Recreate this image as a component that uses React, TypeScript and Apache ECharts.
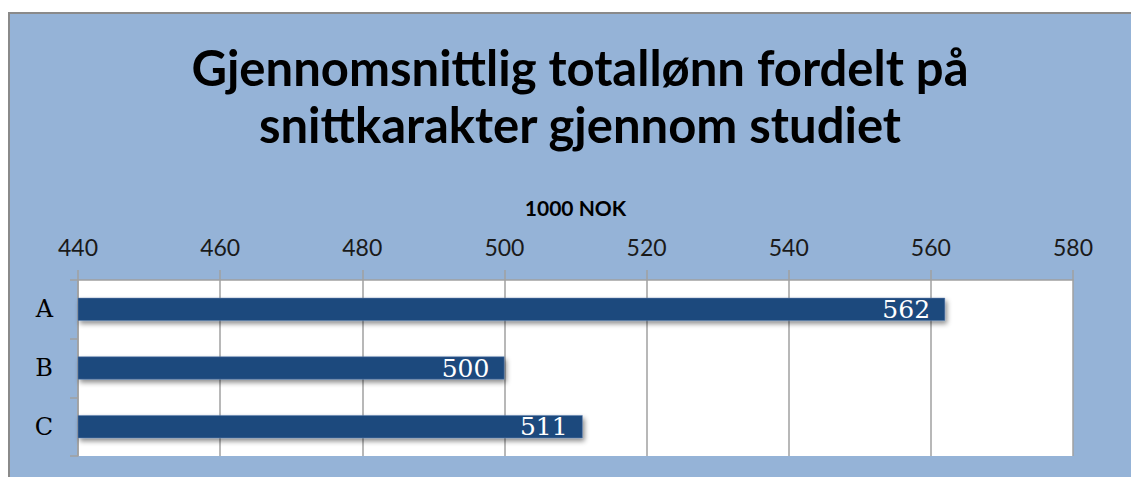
import React, { useEffect, useRef } from "react";
import * as echarts from "echarts";

const categories = ["A", "B", "C"];
const values = [562, 500, 511];
const titleLines = ["Gjennomsnittlig totallønn fordelt på", "snittkarakter gjennom studiet"];
const axisName = "1000 NOK";
const xMin = 440;
const xMax = 580;
const xInterval = 20;

export default function App() {
  const ref = useRef<HTMLDivElement>(null);
  useEffect(() => {
    if (!ref.current) return;
    const chart = echarts.init(ref.current, undefined, { renderer: "svg" });
    chart.setOption({
      animation: false,
      backgroundColor: "#ffffff",
      graphic: [
        {
          type: "rect",
          z: -10,
          silent: true,
          shape: { x: 9, y: 13, width: 1140, height: 480 },
          style: { fill: "#95B3D7", stroke: "#8a8a8a", lineWidth: 2 },
        },
      ],
      title: {
        text: titleLines.join("\n"),
        left: 575,
        top: 33,
        textAlign: "center",
        textStyle: {
          fontFamily: "Lato",
          fontWeight: "bold",
          fontSize: 49,
          lineHeight: 57,
          color: "#000000",
        },
      },
      grid: {
        left: 78,
        top: 280,
        width: 995,
        height: 176,
        containLabel: false,
        show: true,
        backgroundColor: "#ffffff",
        borderWidth: 0,
      },
      xAxis: {
        type: "value",
        position: "top",
        min: xMin,
        max: xMax,
        interval: xInterval,
        name: axisName,
        nameLocation: "middle",
        nameGap: 62,
        nameTextStyle: { fontFamily: "Lato", fontWeight: "bold", fontSize: 21, color: "#000" },
        axisLine: { show: true, lineStyle: { color: "#a0a0a0", width: 1.5 } },
        axisTick: { show: true, length: 10, lineStyle: { color: "#a0a0a0", width: 1.5 } },
        axisLabel: { fontFamily: "Lato", fontSize: 23, color: "#1a1a1a", margin: 22 },
        splitLine: { show: true, lineStyle: { color: "#a0a0a0", width: 1.5 } },
      },
      yAxis: {
        type: "category",
        data: categories,
        inverse: true,
        axisLine: { show: true, lineStyle: { color: "#a0a0a0", width: 1.5 } },
        axisTick: { show: true, length: 8, lineStyle: { color: "#a0a0a0", width: 1.5 } },
        axisLabel: { fontFamily: "DejaVu Serif", fontSize: 24, color: "#000", margin: 25 },
      },
      series: [
        {
          type: "bar",
          data: values,
          barWidth: 23,
          itemStyle: {
            color: "#1F497D",
            borderColor: "#5a7fae",
            borderWidth: 0.5,
            shadowBlur: 5,
            shadowOffsetX: 2,
            shadowOffsetY: 3,
            shadowColor: "rgba(0,0,0,0.45)",
          },
          label: {
            show: true,
            position: "insideRight",
            distance: 15,
            fontFamily: "DejaVu Serif",
            fontSize: 25,
            color: "#ffffff",
          },
        },
      ],
    });
    return () => chart.dispose();
  }, []);
  return (
    <div
      ref={ref}
      style={{ position: "absolute", left: 0, top: 0, width: 1131, height: 477 }}
    />
  );
}
